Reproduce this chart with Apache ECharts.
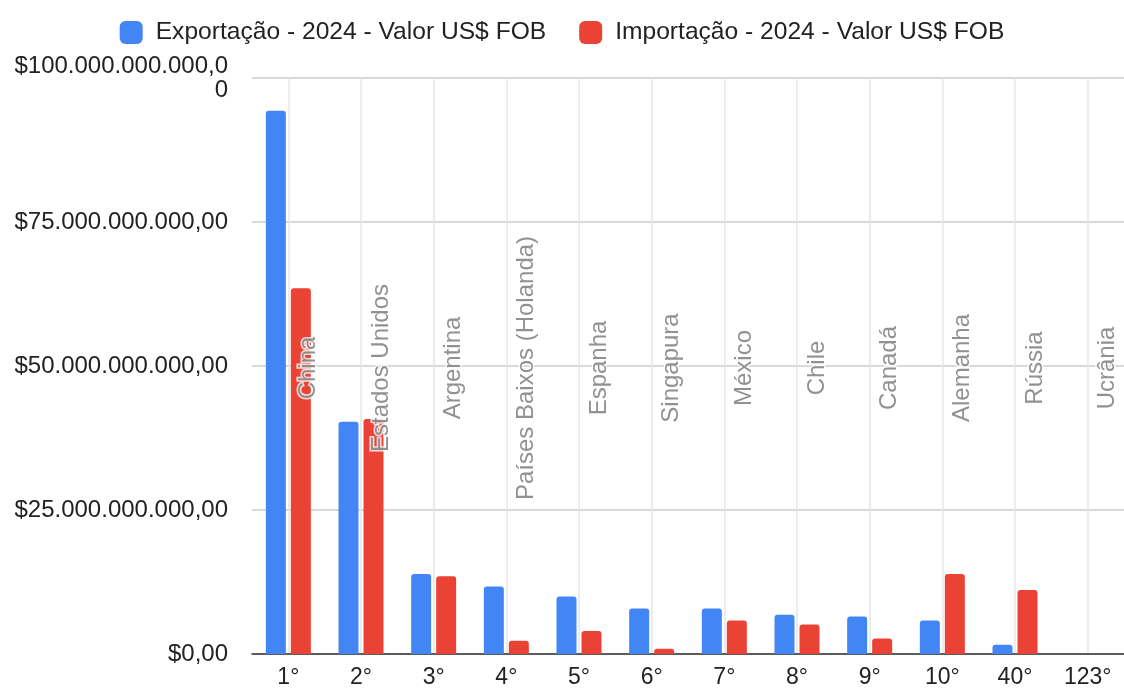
<!DOCTYPE html>
<html>
<head>
<meta charset="utf-8">
<script src="https://cdn.jsdelivr.net/npm/echarts@6/dist/echarts.min.js"></script>
<style>
  html, body { margin: 0; padding: 0; background: #fff; }
</style>
</head>
<body>
<div id="chart" style="width:1124px;height:689px"></div>
<script>
// posição no ranking
const ranks = ['1°', '2°', '3°', '4°', '5°', '6°', '7°', '8°', '9°', '10°', '40°', '123°']
const countries = ['China', 'Estados Unidos', 'Argentina', 'Países Baixos (Holanda)', 'Espanha',
  'Singapura', 'México', 'Chile', 'Canadá', 'Alemanha', 'Rússia', 'Ucrânia']
// valores em US$ FOB
const exportacao = [94.3e9, 40.3e9, 13.9e9, 11.7e9, 10.0e9, 7.9e9, 7.9e9, 6.8e9, 6.5e9, 5.8e9, 1.6e9, 0.02e9]
const importacao = [63.5e9, 40.8e9, 13.5e9, 2.3e9, 4.0e9, 0.9e9, 5.8e9, 5.1e9, 2.7e9, 13.9e9, 11.1e9, 0.01e9]
const yTicks = [0, 25e9, 50e9, 75e9, 100e9]

const fmt = (v) => {
  const s = '$' + v.toLocaleString('pt-BR', {minimumFractionDigits: 2, maximumFractionDigits: 2})
  return s.length > 18 ? s.slice(0, 18) + '\n' + s.slice(18) : s
}

const chart = echarts.init(document.getElementById('chart'))
chart.setOption({
  animation: false,
  textStyle: {fontFamily: 'Arial, "Liberation Sans", sans-serif'},
  legend: {
    top: 15,
    left: 'center',
    itemWidth: 23,
    itemHeight: 23,
    itemGap: 33,
    icon: 'roundRect',
    data: ['Exportação - 2024 - Valor US$ FOB', 'Importação - 2024 - Valor US$ FOB'],
    textStyle: {fontSize: 24.6, color: '#222', padding: [0, 0, 0, 8]}
  },
  grid: {left: 252, right: 0, top: 78, bottom: 32, containLabel: false},
  xAxis: {
    type: 'category',
    data: ranks,
    axisTick: {show: false},
    axisLine: {lineStyle: {color: '#333', width: 1.5}},
    axisLabel: {fontSize: 23, color: '#222', margin: 12},
    splitLine: {show: true, alignWithLabel: true, lineStyle: {color: '#e6e6e6', width: 1.5}}
  },
  yAxis: {
    type: 'value',
    min: 0,
    max: 100e9,
    interval: 25e9,
    axisLabel: {
      fontSize: 24,
      color: '#222',
      margin: 24,
      lineHeight: 24,
      formatter: (v) => yTicks.indexOf(v) >= 0 ? fmt(v) : ''
    },
    splitLine: {lineStyle: {color: '#cccccc', width: 1.5}}
  },
  series: [
    {
      name: 'Exportação - 2024 - Valor US$ FOB',
      type: 'bar',
      data: exportacao,
      barWidth: 20,
      barGap: '25%',
      itemStyle: {color: '#4285f4', borderRadius: [3, 3, 0, 0]}
    },
    {
      name: 'Importação - 2024 - Valor US$ FOB',
      type: 'bar',
      data: importacao,
      barWidth: 20,
      itemStyle: {color: '#ea4335', borderRadius: [3, 3, 0, 0]}
    },
    { // nomes dos países
      type: 'scatter',
      symbolSize: 0,
      silent: true,
      data: countries.map(() => 50e9),
      label: {
        show: true,
        position: 'inside',
        rotate: 90,
        offset: [-2, 20],
        fontSize: 24,
        color: '#757575',
        textBorderColor: '#fff',
        textBorderWidth: 3,
        formatter: (p) => countries[p.dataIndex]
      },
      z: 5
    }
  ]
})
</script>
</body>
</html>
